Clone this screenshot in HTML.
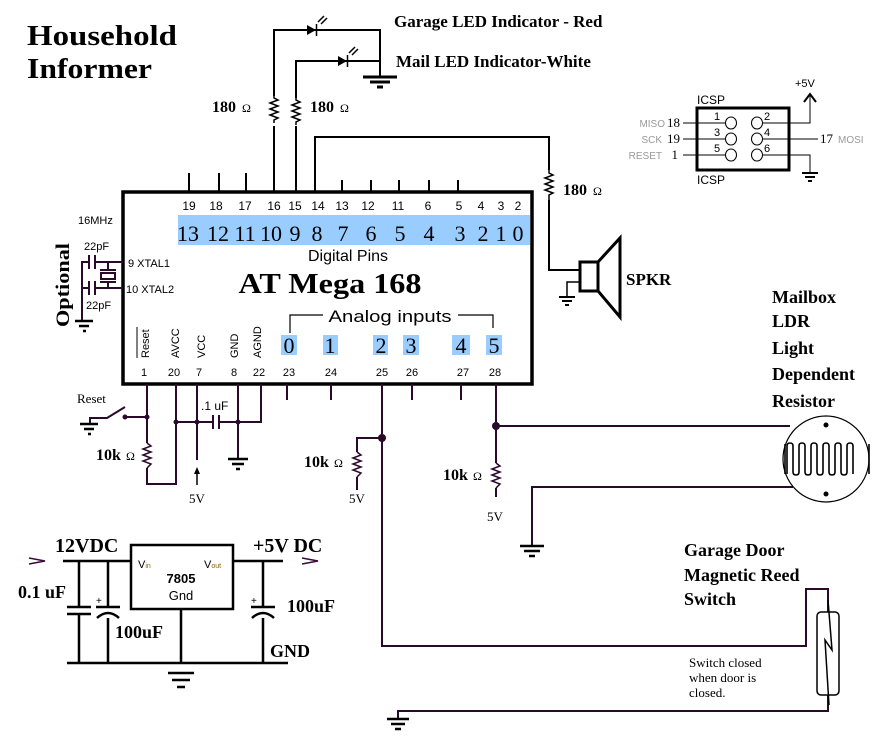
<!DOCTYPE html>
<html><head><meta charset="utf-8"><style>
html,body{margin:0;padding:0;background:#fff;}
svg{display:block;}
.s{font-family:"Liberation Serif",serif;}
.b{font-family:"Liberation Serif",serif;font-weight:bold;}
.a{font-family:"Liberation Sans",sans-serif;}
</style></head><body>
<svg width="880" height="744" viewBox="0 0 880 744" xmlns="http://www.w3.org/2000/svg">
<rect width="880" height="744" fill="#fff"/>
<!-- Title -->
<text x="27" y="45" class="b" font-size="28" textLength="150" lengthAdjust="spacingAndGlyphs">Household</text>
<text x="27" y="78" class="b" font-size="28" textLength="125" lengthAdjust="spacingAndGlyphs">Informer</text>

<!-- LED circuits (black) -->
<g stroke="#000" stroke-width="2" fill="none">
<path d="M274 192V30H380V77"/>
<path d="M296 192V61H380"/>
<path d="M315 192V137H549V170"/>
<path d="M189 173V192M219 173V192M246 173V192M342 180V192M371 180V192M399 180V192M429 180V192M458 180V192"/>
</g>
<g fill="#fff" stroke="none"><rect x="268" y="96" width="12" height="30"/><rect x="290" y="98" width="12" height="28"/><rect x="543" y="171" width="12" height="30"/></g>
<g stroke="#000" stroke-width="1.5" fill="none">
<polyline points="274,96 274,98 278,100 270,103 278,106 270,109 278,112 270,115 278,118 274,120 274,123"/>
<polyline points="296,98 296,100 300,102 292,105 300,108 292,111 300,114 292,117 300,120 296,122 296,125"/>
<polyline points="549,170 549,173 553,175 545,178 553,181 545,184 553,187 545,190 553,193 549,195 549,200"/>
</g>
<path d="M549 200V270H580" stroke="#000" stroke-width="2" fill="none"/>
<!-- LEDs -->
<g fill="#000"><polygon points="307,25 307,35 316,30"/><polygon points="338,56 338,66 347,61"/></g>
<g stroke="#000" stroke-width="1.5" fill="none">
<path d="M316.5 24V36M347.5 55V67"/>
<path d="M318 22l6-6M321 24l6-6M349 53l6-6M352 55l6-6"/>
</g>
<g stroke="#000" stroke-width="3"><path d="M363 77H397M370 82H390M377 87H383"/></g>
<text x="394" y="27" class="b" font-size="17">Garage LED Indicator - Red</text>
<text x="396" y="67" class="b" font-size="17">Mail  LED Indicator-White</text>
<text x="212" y="112" class="b" font-size="16">180</text><text x="242" y="112" class="s" font-size="12">Ω</text>
<text x="310" y="112" class="b" font-size="16">180</text><text x="340" y="112" class="s" font-size="12">Ω</text>
<text x="563" y="195" class="b" font-size="16">180</text><text x="593" y="195" class="s" font-size="12">Ω</text>

<!-- Chip -->
<rect x="178" y="215" width="352" height="30" fill="#99ccff"/>
<g fill="#99ccff"><rect x="281" y="335" width="16" height="20"/><rect x="323" y="335" width="15" height="20"/><rect x="373" y="335" width="15" height="20"/><rect x="403" y="335" width="16" height="20"/><rect x="452" y="335" width="18" height="20"/><rect x="486" y="335" width="16" height="20"/></g>
<rect x="123" y="192" width="409" height="192" fill="none" stroke="#000" stroke-width="3.5"/>
<g class="a" font-size="12" text-anchor="middle" fill="#000">
<text x="189" y="210">19</text><text x="216" y="210">18</text><text x="245" y="210">17</text><text x="274" y="210">16</text><text x="295" y="210">15</text><text x="318" y="210">14</text><text x="342" y="210">13</text><text x="368" y="210">12</text><text x="398" y="210">11</text><text x="428" y="210">6</text><text x="459" y="210">5</text><text x="481" y="210">4</text><text x="501" y="210">3</text><text x="518" y="210">2</text>
</g>
<g class="s" font-size="22" text-anchor="middle" fill="#000">
<text x="188" y="241">13</text><text x="218" y="241">12</text><text x="245" y="241">11</text><text x="271" y="241">10</text><text x="295" y="241">9</text><text x="317" y="241">8</text><text x="343" y="241">7</text><text x="371" y="241">6</text><text x="400" y="241">5</text><text x="429" y="241">4</text><text x="460" y="241">3</text><text x="483" y="241">2</text><text x="501" y="241">1</text><text x="518" y="241">0</text>
</g>
<text x="348" y="261" class="a" font-size="16" text-anchor="middle">Digital Pins</text>
<text x="330" y="293" class="b" font-size="29" text-anchor="middle" textLength="183" lengthAdjust="spacingAndGlyphs">AT Mega 168</text>
<text x="390" y="322" class="a" font-size="17" text-anchor="middle" textLength="123" lengthAdjust="spacingAndGlyphs">Analog inputs</text>
<path d="M290 333V315H323M458 315H493V328" stroke="#000" stroke-width="1.2" fill="none"/>
<g class="s" font-size="22" text-anchor="middle">
<text x="289" y="353">0</text><text x="330" y="353">1</text><text x="381" y="353">2</text><text x="411" y="353">3</text><text x="461" y="353">4</text><text x="494" y="353">5</text>
</g>
<g class="a" font-size="11">
<text transform="translate(149,358) rotate(-90)">Reset</text>
<text transform="translate(179,358) rotate(-90)">AVCC</text>
<text transform="translate(205,358) rotate(-90)">VCC</text>
<text transform="translate(238,358) rotate(-90)">GND</text>
<text transform="translate(261,358) rotate(-90)">AGND</text>
</g>
<path d="M137 327V358" stroke="#000" stroke-width="1"/>
<g class="a" font-size="11" text-anchor="middle">
<text x="144" y="376">1</text><text x="174" y="376">20</text><text x="199" y="376">7</text><text x="234" y="376">8</text><text x="259" y="376">22</text><text x="289" y="376">23</text><text x="331" y="376">24</text><text x="382" y="376">25</text><text x="412" y="376">26</text><text x="463" y="376">27</text><text x="495" y="376">28</text>
</g>
<g stroke="#2a0a2a" stroke-width="2" fill="none">
<path d="M287 384V400M331 384V400M412 384V400M461 384V400"/>
</g>

<!-- Crystal -->
<text x="78" y="224" class="a" font-size="11">16MHz</text>
<text x="84" y="250" class="a" font-size="11">22pF</text>
<text x="86" y="309" class="a" font-size="11">22pF</text>
<text x="128" y="267" class="a" font-size="11">9  XTAL1</text>
<text x="126" y="293" class="a" font-size="11">10 XTAL2</text>
<text transform="translate(69,327) rotate(-90)" class="b" font-size="19" textLength="84" lengthAdjust="spacingAndGlyphs">Optional</text>
<g stroke="#2a0a2a" stroke-width="2" fill="none">
<path d="M82 320V262H89M95 262H123M82 288H89M95 288H123"/>
<path d="M89 255V269M95 255V269M89 281V295M95 281V295"/>
<path d="M108 262V270M108 282V288"/>
<rect x="101" y="273" width="14" height="6"/>
<path d="M100 270H116M100 282H116"/>
</g>
<g stroke="#000" stroke-width="2.5"><path d="M75 321H93M79 326H89M83 331H86"/></g>

<!-- Reset / power pins -->
<text x="77" y="403" class="s" font-size="13">Reset</text>
<g stroke="#2a0a2a" stroke-width="2" fill="none">
<path d="M147 384V443M147 468V484H176V384"/>
<path d="M90 423V418H107L125 407"/>
<path d="M125 417H147"/>
<path d="M176 422H213M219 422H261V384M197 384V460M238 384V458"/>
<path d="M213 415V429M219 415V429"/>
<path d="M382 384V646H806V589H828V612"/>
<path d="M382 438H357V452M357 477V490"/>
<path d="M496 384V463M496 488V497"/>
<path d="M496 426H790"/>
<path d="M532 545V487H793"/>
<path d="M828 695V711H398V718"/>
</g>
<g stroke="#2a0a2a" stroke-width="1.5" fill="none">
<polyline points="147,443 151,446 143,449 151,452 143,455 151,458 143,461 151,464 147,468"/>
<polyline points="357,452 361,455 353,458 361,461 353,464 361,467 353,470 361,473 357,477"/>
<polyline points="496,463 500,466 492,469 500,472 492,475 500,478 492,481 500,484 496,488"/>
</g>
<g fill="#2a0a2a"><circle cx="125" cy="417" r="2.5"/><circle cx="147" cy="417" r="2.5"/><circle cx="176" cy="422" r="2.5"/><circle cx="197" cy="422" r="2.5"/><circle cx="238" cy="422" r="2.5"/><circle cx="382" cy="438" r="4"/><circle cx="496" cy="426" r="4"/></g>
<g stroke="#000" stroke-width="2.5">
<path d="M80 424H98M84 429H94M88 434H91"/>
<path d="M228 459H248M232 464H244M236 469H240"/>
<path d="M520 546H544M524 551H540M529 556H535"/>
<path d="M387 719H409M391 724H405M395 729H401"/>
</g>
<path d="M197 485V472" stroke="#000" stroke-width="1.5"/><polygon points="194,474 200,474 197,467" fill="#000"/>
<text x="189" y="503" class="s" font-size="13">5V</text>
<text x="349" y="503" class="s" font-size="13">5V</text>
<text x="487" y="521" class="s" font-size="13">5V</text>
<text x="201" y="410" class="a" font-size="12">.1 uF</text>
<text x="96" y="460" class="b" font-size="16">10k</text><text x="126" y="460" class="s" font-size="12">Ω</text>
<text x="304" y="467" class="b" font-size="16">10k</text><text x="334" y="467" class="s" font-size="12">Ω</text>
<text x="443" y="480" class="b" font-size="16">10k</text><text x="473" y="480" class="s" font-size="12">Ω</text>

<!-- Speaker -->
<g stroke="#000" stroke-width="3" fill="none">
<rect x="580" y="262" width="18" height="29"/>
<polygon points="598,262 620,238 620,317 598,291"/>
</g>
<path d="M580 282H567V296" stroke="#000" stroke-width="1.5" fill="none"/>
<g stroke="#000" stroke-width="2"><path d="M559 297H575M562 301H572M565 305H569"/></g>
<text x="626" y="285" class="b" font-size="17">SPKR</text>

<!-- LDR -->
<g class="b" font-size="18">
<text x="772" y="303">Mailbox</text><text x="772" y="327">LDR</text><text x="772" y="354">Light</text><text x="772" y="380">Dependent</text><text x="772" y="407">Resistor</text>
</g>
<circle cx="826" cy="459" r="43" fill="none" stroke="#000" stroke-width="1.2"/>
<circle cx="826" cy="425" r="2.5"/><circle cx="826" cy="494" r="2.5"/>
<path d="M785 444V474 M785 459 M787 474V446q0-3 3-3t3 3v26q0 3 3 3t3-3V446q0-3 3-3t3 3v26q0 3 3 3t3-3V446q0-3 3-3t3 3v26q0 3 3 3t3-3V446q0-3 3-3t3 3v26q0 3 3 3t3-3V446q0-3 3-3t3 3v26q0 3 3 3t3-3V446q0-3 3-3t3 3v28 M869 444V474" stroke="#000" stroke-width="1.6" fill="none"/>

<!-- Reed switch -->
<text x="684" y="556" class="b" font-size="18">Garage Door</text>
<text x="684" y="581" class="b" font-size="18">Magnetic Reed</text>
<text x="684" y="605" class="b" font-size="18">Switch</text>
<text x="689" y="667" class="s" font-size="13">Switch closed</text>
<text x="689" y="682" class="s" font-size="13">when door is</text>
<text x="689" y="697" class="s" font-size="13">closed.</text>
<rect x="817" y="612" width="22" height="83" rx="4" fill="none" stroke="#000" stroke-width="1.5"/>
<path d="M828 600L832 650L825 640L829 705" stroke="#000" stroke-width="1.5" fill="none"/>

<!-- ICSP -->
<rect x="697" y="108" width="92" height="62" fill="none" stroke="#000" stroke-width="3"/>
<text x="697" y="104" class="a" font-size="12">ICSP</text>
<text x="697" y="184" class="a" font-size="12">ICSP</text>
<g stroke="#000" stroke-width="1" fill="none">
<ellipse cx="731" cy="123" rx="5.5" ry="6"/><ellipse cx="731" cy="139" rx="5.5" ry="6"/><ellipse cx="731" cy="155" rx="5.5" ry="6"/>
<ellipse cx="757" cy="123" rx="5.5" ry="6"/><ellipse cx="757" cy="139" rx="5.5" ry="6"/><ellipse cx="757" cy="155" rx="5.5" ry="6"/>
<path d="M683 123H725M683 139H725M683 155H725"/>
<path d="M763 123H810V96M763 139H818M763 155H810V172"/>
<path d="M804 102L810 94L816 102" stroke-width="2"/>
</g>
<g stroke="#000" stroke-width="2"><path d="M802 173H818M805 177H815M808 181H812"/></g>
<g class="a" font-size="11"><text x="714" y="120">1</text><text x="714" y="136">3</text><text x="714" y="152">5</text><text x="764" y="120">2</text><text x="764" y="136">4</text><text x="764" y="152">6</text></g>
<text x="795" y="87" class="a" font-size="11">+5V</text>
<g class="a" font-size="10" fill="#999" text-anchor="end"><text x="665" y="127">MISO</text><text x="662" y="143">SCK</text><text x="662" y="159">RESET</text></g>
<g class="s" font-size="13" text-anchor="end"><text x="680" y="127">18</text><text x="680" y="143">19</text><text x="678" y="159">1</text></g>
<text x="820" y="143" class="s" font-size="13">17</text><text x="838" y="143" class="a" font-size="10" fill="#999">MOSI</text>

<!-- Regulator -->
<rect x="131" y="545" width="102" height="64" fill="none" stroke="#000" stroke-width="2.5"/>
<g stroke="#000" stroke-width="2.5" fill="none">
<path d="M63 561H131M233 561H283M181 609V663M67 663H288"/>
<path d="M79 561V607M79 614V663M108 561V607M108 618V663M263 561V607M263 618V663"/>
<path d="M67 607H91M67 614H91M96 607H120M251 607H275"/>
<path d="M97 618Q108 608 119 618M252 618Q263 608 274 618"/>
</g>
<g stroke="#000" stroke-width="2.5"><path d="M168 673H194M172 680H190M177 687H185"/></g>
<g stroke="#3a0a3a" stroke-width="1.5" fill="none"><path d="M29 558L45 561L29 564M302 558L318 561L302 564"/></g>
<text x="55" y="552" class="b" font-size="20">12VDC</text>
<text x="253" y="552" class="b" font-size="20">+5V DC</text>
<text x="18" y="598" class="b" font-size="18">0.1 uF</text>
<text x="115" y="638" class="b" font-size="18">100uF</text>
<text x="287" y="612" class="b" font-size="18">100uF</text>
<text x="270" y="657" class="b" font-size="18">GND</text>
<text x="96" y="604" class="a" font-size="10">+</text><text x="251" y="604" class="a" font-size="10">+</text>
<text x="138" y="568" class="a" font-size="11">V<tspan font-size="7" fill="#886600">in</tspan></text>
<text x="204" y="568" class="a" font-size="11">V<tspan font-size="7" fill="#886600">out</tspan></text>
<text x="181" y="583" class="a" font-size="13" font-weight="bold" text-anchor="middle">7805</text>
<text x="181" y="600" class="a" font-size="13" text-anchor="middle">Gnd</text>
</svg>
</body></html>
